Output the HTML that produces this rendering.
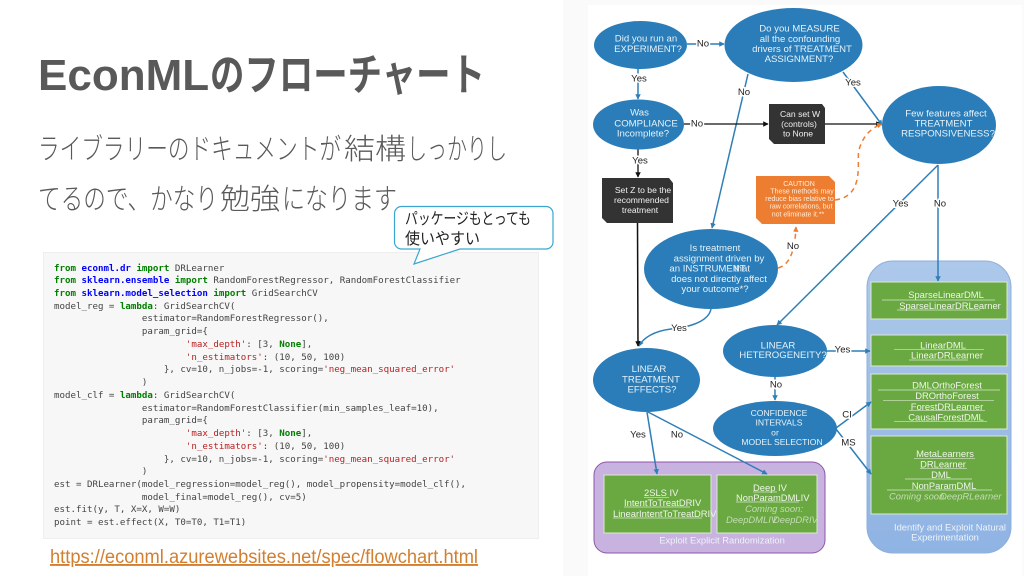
<!DOCTYPE html>
<html lang="ja">
<head>
<meta charset="utf-8">
<title>EconMLのフローチャート</title>
<style>
html,body{margin:0;padding:0;background:#fff;width:1024px;height:576px;overflow:hidden}
#root{position:relative;width:1024px;height:576px;overflow:hidden}
svg{position:absolute;left:0;top:0}
.title{font:bold 44px "Liberation Sans",sans-serif;fill:#595959}
.titlej{font:bold 44px "Noto Sans CJK JP",sans-serif;fill:#595959}
.body{font:300 29px "Noto Sans CJK JP",sans-serif;fill:#595959}
.call{font:16px "Noto Sans CJK JP",sans-serif;fill:#222}
.link{font:19px "Liberation Sans",sans-serif;fill:#d27f2f;text-decoration:underline}
#code{position:absolute;left:44px;top:253px;width:494px;height:285px;background:#f7f7f7;outline:1px solid #eeeeee;filter:blur(.3px)}
#code pre{margin:0;position:absolute;left:10px;top:9.5px;font:9.15px/12.73px "DejaVu Sans Mono","Liberation Mono",monospace;color:#444}
b.k{color:#008000}b.m{color:#0000ff}i.s{font-style:normal;color:#ba2121}b.c{color:#008000}
#flow{filter:blur(.35px)}
#flow text{font-family:"Liberation Sans",sans-serif;dominant-baseline:central;text-anchor:middle}
.n text{font-size:9.6px;fill:#e6f2fa}
.d text{font-size:8.6px;fill:#f0f0f0}
.o text{font-size:7px;fill:#fdeedd}
.g text{font-size:9.4px;fill:#eef6e8}
#flow .g text.st{text-anchor:start}
.g text.c{font-style:italic;fill:#c5dcb6}
.l text{font-size:9.6px;fill:#222;paint-order:stroke;stroke:#fff;stroke-width:3px}
.cap text{font-size:9.4px;fill:#eef3fa}
.u line{stroke:#d6e8c8;stroke-width:.7}
</style>
</head>
<body>
<div id="root">
<svg width="1024" height="576" viewBox="0 0 1024 576" style="z-index:1">
  <text class="title" x="38" y="90">EconML</text>
  <text class="titlej" x="210" y="90" textLength="275" lengthAdjust="spacingAndGlyphs">のフローチャート</text>
  <text class="body" x="38" y="159" textLength="303" lengthAdjust="spacingAndGlyphs">ライブラリーのドキュメントが</text>
  <text class="body" x="344" y="159" textLength="62" lengthAdjust="spacingAndGlyphs">結構</text>
  <text class="body" x="407" y="159" textLength="100" lengthAdjust="spacingAndGlyphs">しっかりし</text>
  <text class="body" x="38" y="209" textLength="180" lengthAdjust="spacingAndGlyphs">てるので、かなり</text>
  <text class="body" x="220" y="209" textLength="60" lengthAdjust="spacingAndGlyphs">勉強</text>
  <text class="body" x="282" y="209" textLength="115" lengthAdjust="spacingAndGlyphs">になります</text>
  <text class="link" x="50" y="563" textLength="428" lengthAdjust="spacingAndGlyphs">https://econml.azurewebsites.net/spec/flowchart.html</text>
</svg>

<div id="code"><pre><b class="k">from</b> <b class="m">econml.dr</b> <b class="k">import</b> DRLearner
<b class="k">from</b> <b class="m">sklearn.ensemble</b> <b class="k">import</b> RandomForestRegressor, RandomForestClassifier
<b class="k">from</b> <b class="m">sklearn.model_selection</b> <b class="k">import</b> GridSearchCV
model_reg = <b class="k">lambda</b>: GridSearchCV(
                estimator=RandomForestRegressor(),
                param_grid={
                        <i class="s">'max_depth'</i>: [3, <b class="c">None</b>],
                        <i class="s">'n_estimators'</i>: (10, 50, 100)
                    }, cv=10, n_jobs=-1, scoring=<i class="s">'neg_mean_squared_error'</i>
                )
model_clf = <b class="k">lambda</b>: GridSearchCV(
                estimator=RandomForestClassifier(min_samples_leaf=10),
                param_grid={
                        <i class="s">'max_depth'</i>: [3, <b class="c">None</b>],
                        <i class="s">'n_estimators'</i>: (10, 50, 100)
                    }, cv=10, n_jobs=-1, scoring=<i class="s">'neg_mean_squared_error'</i>
                )
est = DRLearner(model_regression=model_reg(), model_propensity=model_clf(),
                model_final=model_reg(), cv=5)
est.fit(y, T, X=X, W=W)
point = est.effect(X, T0=T0, T1=T1)</pre></div>

<svg width="1024" height="576" viewBox="0 0 1024 576" style="z-index:3">
  <path d="M401.500 206.500H546a7 7 0 0 1 7 7V242a7 7 0 0 1-7 7H460L414 264L420 249H401.500a7 7 0 0 1-7-7V213.500a7 7 0 0 1 7-7Z" fill="#fff" stroke="#3aa6cf" stroke-width="1.200"/>
  <text class="call" x="405" y="224" textLength="126" lengthAdjust="spacingAndGlyphs">パッケージもとっても</text>
  <text class="call" x="405" y="244" textLength="75" lengthAdjust="spacingAndGlyphs">使いやすい</text>
</svg>

<svg id="flow" width="1024" height="576" viewBox="0 0 1024 576" style="z-index:2">
  <defs>
    <marker id="ab" viewBox="0 0 8 8" refX="7" refY="4" markerWidth="5.500" markerHeight="5.500" orient="auto" markerUnits="userSpaceOnUse"><path d="M0 0L8 4L0 8Z" fill="#2e7fb8"/></marker>
    <marker id="ak" viewBox="0 0 8 8" refX="7" refY="4" markerWidth="5.500" markerHeight="5.500" orient="auto" markerUnits="userSpaceOnUse"><path d="M0 0L8 4L0 8Z" fill="#111"/></marker>
    <marker id="ao" viewBox="0 0 8 8" refX="7" refY="4" markerWidth="5.500" markerHeight="5.500" orient="auto" markerUnits="userSpaceOnUse"><path d="M0 0L8 4L0 8Z" fill="#ed7d31"/></marker>
    <linearGradient id="bg" x1="0" y1="0" x2="0" y2="1"><stop offset="0" stop-color="#adc8ea"/><stop offset="1" stop-color="#8fb3e3"/></linearGradient>
    <clipPath id="clipBlue"><rect x="867" y="261" width="144" height="292" rx="26"/></clipPath>
    <clipPath id="clipOrange"><rect x="756" y="176" width="79" height="48"/></clipPath>
  </defs>

  <rect x="563" y="0" width="461" height="576" fill="#fafafa"/>
  <rect x="588" y="5" width="434" height="571" fill="#fff"/>

  <rect x="594" y="462" width="231" height="91" rx="13" fill="#c8b2e0" stroke="#8d55a8" stroke-width="1"/>
  <rect x="867" y="261" width="144" height="292" rx="26" fill="url(#bg)" stroke="#8fb0dc" stroke-width="1"/>

  <g fill="#6aa842" stroke="#dbe8d3" stroke-width="1">
    <rect x="871" y="282" width="136" height="37"/>
    <rect x="871" y="335" width="136" height="31"/>
    <rect x="871" y="374" width="136" height="55"/>
    <rect x="871" y="436" width="136" height="78"/>
    <rect x="604" y="475" width="107" height="58"/>
    <rect x="717" y="475" width="100" height="58"/>
  </g>

  <g fill="none" stroke="#2e7fb8" stroke-width="1.500">
    <line x1="687" y1="44" x2="724" y2="44" marker-end="url(#ab)"/>
    <line x1="638" y1="68" x2="638" y2="99" marker-end="url(#ab)"/>
    <line x1="843" y1="72" x2="882" y2="125" marker-end="url(#ab)"/>
    <line x1="748" y1="74" x2="712" y2="228" marker-end="url(#ab)"/>
    <path d="M711 309C708 324 682 328 671 329C654 331 643 338 639 346" marker-end="url(#ab)"/>
    <line x1="938" y1="165" x2="777" y2="325" marker-end="url(#ab)"/>
    <line x1="938" y1="165" x2="938" y2="281" marker-end="url(#ab)"/>
    <line x1="827" y1="351" x2="870" y2="351" marker-end="url(#ab)"/>
    <line x1="775" y1="377" x2="775" y2="400" marker-end="url(#ab)"/>
    <line x1="836" y1="428" x2="871" y2="402" marker-end="url(#ab)"/>
    <line x1="836" y1="429" x2="871" y2="474" marker-end="url(#ab)"/>
    <line x1="647" y1="412" x2="657" y2="474" marker-end="url(#ab)"/>
    <line x1="648" y1="412" x2="767" y2="474" marker-end="url(#ab)"/>
  </g>
  <g fill="none" stroke="#111" stroke-width="1.300">
    <line x1="684" y1="124" x2="768" y2="124" marker-end="url(#ak)"/>
    <line x1="825" y1="124" x2="881" y2="124" marker-end="url(#ak)"/>
    <line x1="638" y1="149" x2="638" y2="177" marker-end="url(#ak)"/>
    <line x1="637.500" y1="223" x2="638" y2="346" stroke-width="1.500" marker-end="url(#ak)"/>
  </g>
  <g fill="none" stroke="#ed7d31" stroke-width="1.500" stroke-dasharray="5 4">
    <path d="M778 268C790 265 795 250 796 227" marker-end="url(#ao)"/>
    <path d="M835 200C866 196 856 160 859 150C862 138 870 128 882 124" marker-end="url(#ao)"/>
  </g>

  <g fill="#2a7db8">
    <ellipse cx="640.500" cy="45" rx="46.500" ry="24"/>
    <ellipse cx="793.500" cy="45" rx="69" ry="37"/>
    <ellipse cx="638.500" cy="124.500" rx="45.500" ry="25"/>
    <ellipse cx="939" cy="125" rx="57" ry="39"/>
    <ellipse cx="711" cy="269" rx="67" ry="40"/>
    <ellipse cx="775" cy="351" rx="52" ry="26"/>
    <ellipse cx="646.500" cy="380" rx="53.500" ry="32"/>
    <ellipse cx="775" cy="428.500" rx="62" ry="27.500"/>
  </g>
  <path d="M769 104H822L825 108V144H774L769 139Z" fill="#333"/>
  <path d="M602 178H669L673 183V223H607L602 218Z" fill="#333"/>
  <path d="M756 176H829L835 182V224H762L756 218Z" fill="#ed7d31"/>

  <g class="n">
    <text x="646" y="39">Did you run an</text>
    <text x="648" y="49.500">EXPERIMENT?</text>
    <text x="799.500" y="29">Do you MEASURE</text>
    <text x="800" y="39.500">all the confounding</text>
    <text x="802" y="49.500">drivers of TREATMENT</text>
    <text x="799" y="59.500">ASSIGNMENT?</text>
    <text x="639.500" y="113">Was</text>
    <text x="646" y="124">COMPLIANCE</text>
    <text x="643" y="134">Incomplete?</text>
    <text x="946" y="114">Few features affect</text>
    <text x="943.500" y="124">TREATMENT</text>
    <text x="948" y="134">RESPONSIVENESS?</text>
    <text x="715" y="248.700">Is treatment</text>
    <text x="719" y="259">assignment driven by</text>
    <text x="707.500" y="269">an INSTRUMENT</text>
    <text x="742" y="269">that</text>
    <text x="719" y="279.300">does not directly affect</text>
    <text x="715" y="289.500">your outcome*?</text>
    <text x="778" y="346">LINEAR</text>
    <text x="783" y="355.700">HETEROGENEITY?</text>
    <text x="649" y="369.700">LINEAR</text>
    <text x="651" y="380">TREATMENT</text>
    <text x="652" y="390">EFFECTS?</text>
    <text x="779" y="413" style="font-size:8.600px">CONFIDENCE</text>
    <text x="779" y="422.700" style="font-size:8.600px">INTERVALS</text>
    <text x="775" y="432.700" style="font-size:8.600px">or</text>
    <text x="782" y="442" style="font-size:8.600px">MODEL SELECTION</text>
  </g>
  <g class="d">
    <text x="800" y="114">Can set W</text>
    <text x="799" y="124">(controls)</text>
    <text x="798" y="133.500">to None</text>
    <text x="643" y="190">Set Z to be the</text>
    <text x="641.500" y="200">recommended</text>
    <text x="640" y="210">treatment</text>
  </g>
  <g class="o" clip-path="url(#clipOrange)">
    <text x="799" y="184.500">CAUTION</text>
    <text x="802" y="192">These methods may</text>
    <text x="799.500" y="199.500">reduce bias relative to</text>
    <text x="801" y="207">raw correlations, but</text>
    <text x="798" y="215">not eliminate it.**</text>
  </g>

  <g class="u">
    <line x1="882" x2="995" y1="300" y2="300"/><line x1="897" x2="980" y1="310" y2="310"/>
    <line x1="894" x2="984" y1="349.300" y2="349.300"/><line x1="909" x2="968" y1="360" y2="360"/>
    <line x1="878" x2="1000" y1="390" y2="390"/><line x1="883" x2="994" y1="400.300" y2="400.300"/>
    <line x1="909" x2="985" y1="410.700" y2="410.700"/><line x1="894" x2="987" y1="421.700" y2="421.700"/>
    <line x1="914" x2="975" y1="458.700" y2="458.700"/><line x1="920" x2="967" y1="468.700" y2="468.700"/>
    <line x1="905" x2="972" y1="479" y2="479"/><line x1="887" x2="992" y1="490" y2="490"/>
    <line x1="644" x2="669" y1="497.300" y2="497.300"/><line x1="624" x2="690" y1="507" y2="507"/>
    <line x1="613" x2="702" y1="518" y2="518"/><line x1="753" x2="777" y1="492" y2="492"/>
    <line x1="736" x2="799" y1="502" y2="502"/>
  </g>
  <g class="g">
    <text x="946" y="294.700">SparseLinearDML</text>
    <text x="950" y="305.300">SparseLinearDRLearner</text>
    <text x="943" y="345">LinearDML</text>
    <text x="947" y="355">LinearDRLearner</text>
    <text x="947" y="385">DMLOrthoForest</text>
    <text x="947" y="395.300">DROrthoForest</text>
    <text x="947" y="406.300">ForestDRLearner</text>
    <text x="946" y="417">CausalForestDML</text>
    <text x="945" y="453.700">MetaLearners</text>
    <text x="943" y="464">DRLearner</text>
    <text x="941" y="474.700">DML</text>
    <text x="944" y="485.300">NonParamDML</text>
    <text class="st c" x="889" y="496">Coming soon:</text>
    <text class="st c" x="940" y="496">DeepRLearner</text>
    <text class="st" x="644" y="492.700">2SLS IV</text>
    <text class="st" x="624" y="502.700">IntentToTreatDRIV</text>
    <text class="st" x="613" y="513.700">LinearIntentToTreatDRIV</text>
    <text class="st" x="753" y="487.300">Deep IV</text>
    <text class="st" x="736" y="497.700">NonParamDMLIV</text>
    <text class="c" x="774" y="508.300">Coming soon:</text>
    <text class="st c" x="726" y="519.300">DeepDMLIV</text>
    <text class="st c" x="773" y="519.300">DeepDRIV</text>
  </g>
  <g class="cap">
    <text x="722" y="540">Exploit Explicit Randomization</text>
    <g clip-path="url(#clipBlue)">
      <text x="950" y="527">Identify and Exploit Natural</text>
      <text x="945" y="537">Experimentation</text>
    </g>
  </g>

  <g class="l">
    <text x="703" y="44">No</text>
    <text x="639" y="79">Yes</text>
    <text x="697" y="124">No</text>
    <text x="853" y="83">Yes</text>
    <text x="744" y="92.500">No</text>
    <text x="640" y="161">Yes</text>
    <text x="793" y="246.500">No</text>
    <text x="900.500" y="204">Yes</text>
    <text x="940" y="204">No</text>
    <text x="679" y="328.500">Yes</text>
    <text x="842.500" y="350">Yes</text>
    <text x="776" y="385">No</text>
    <text x="847" y="415">CI</text>
    <text x="848.500" y="443">MS</text>
    <text x="638" y="435">Yes</text>
    <text x="677" y="435">No</text>
  </g>
</svg>
</div>
</body>
</html>
